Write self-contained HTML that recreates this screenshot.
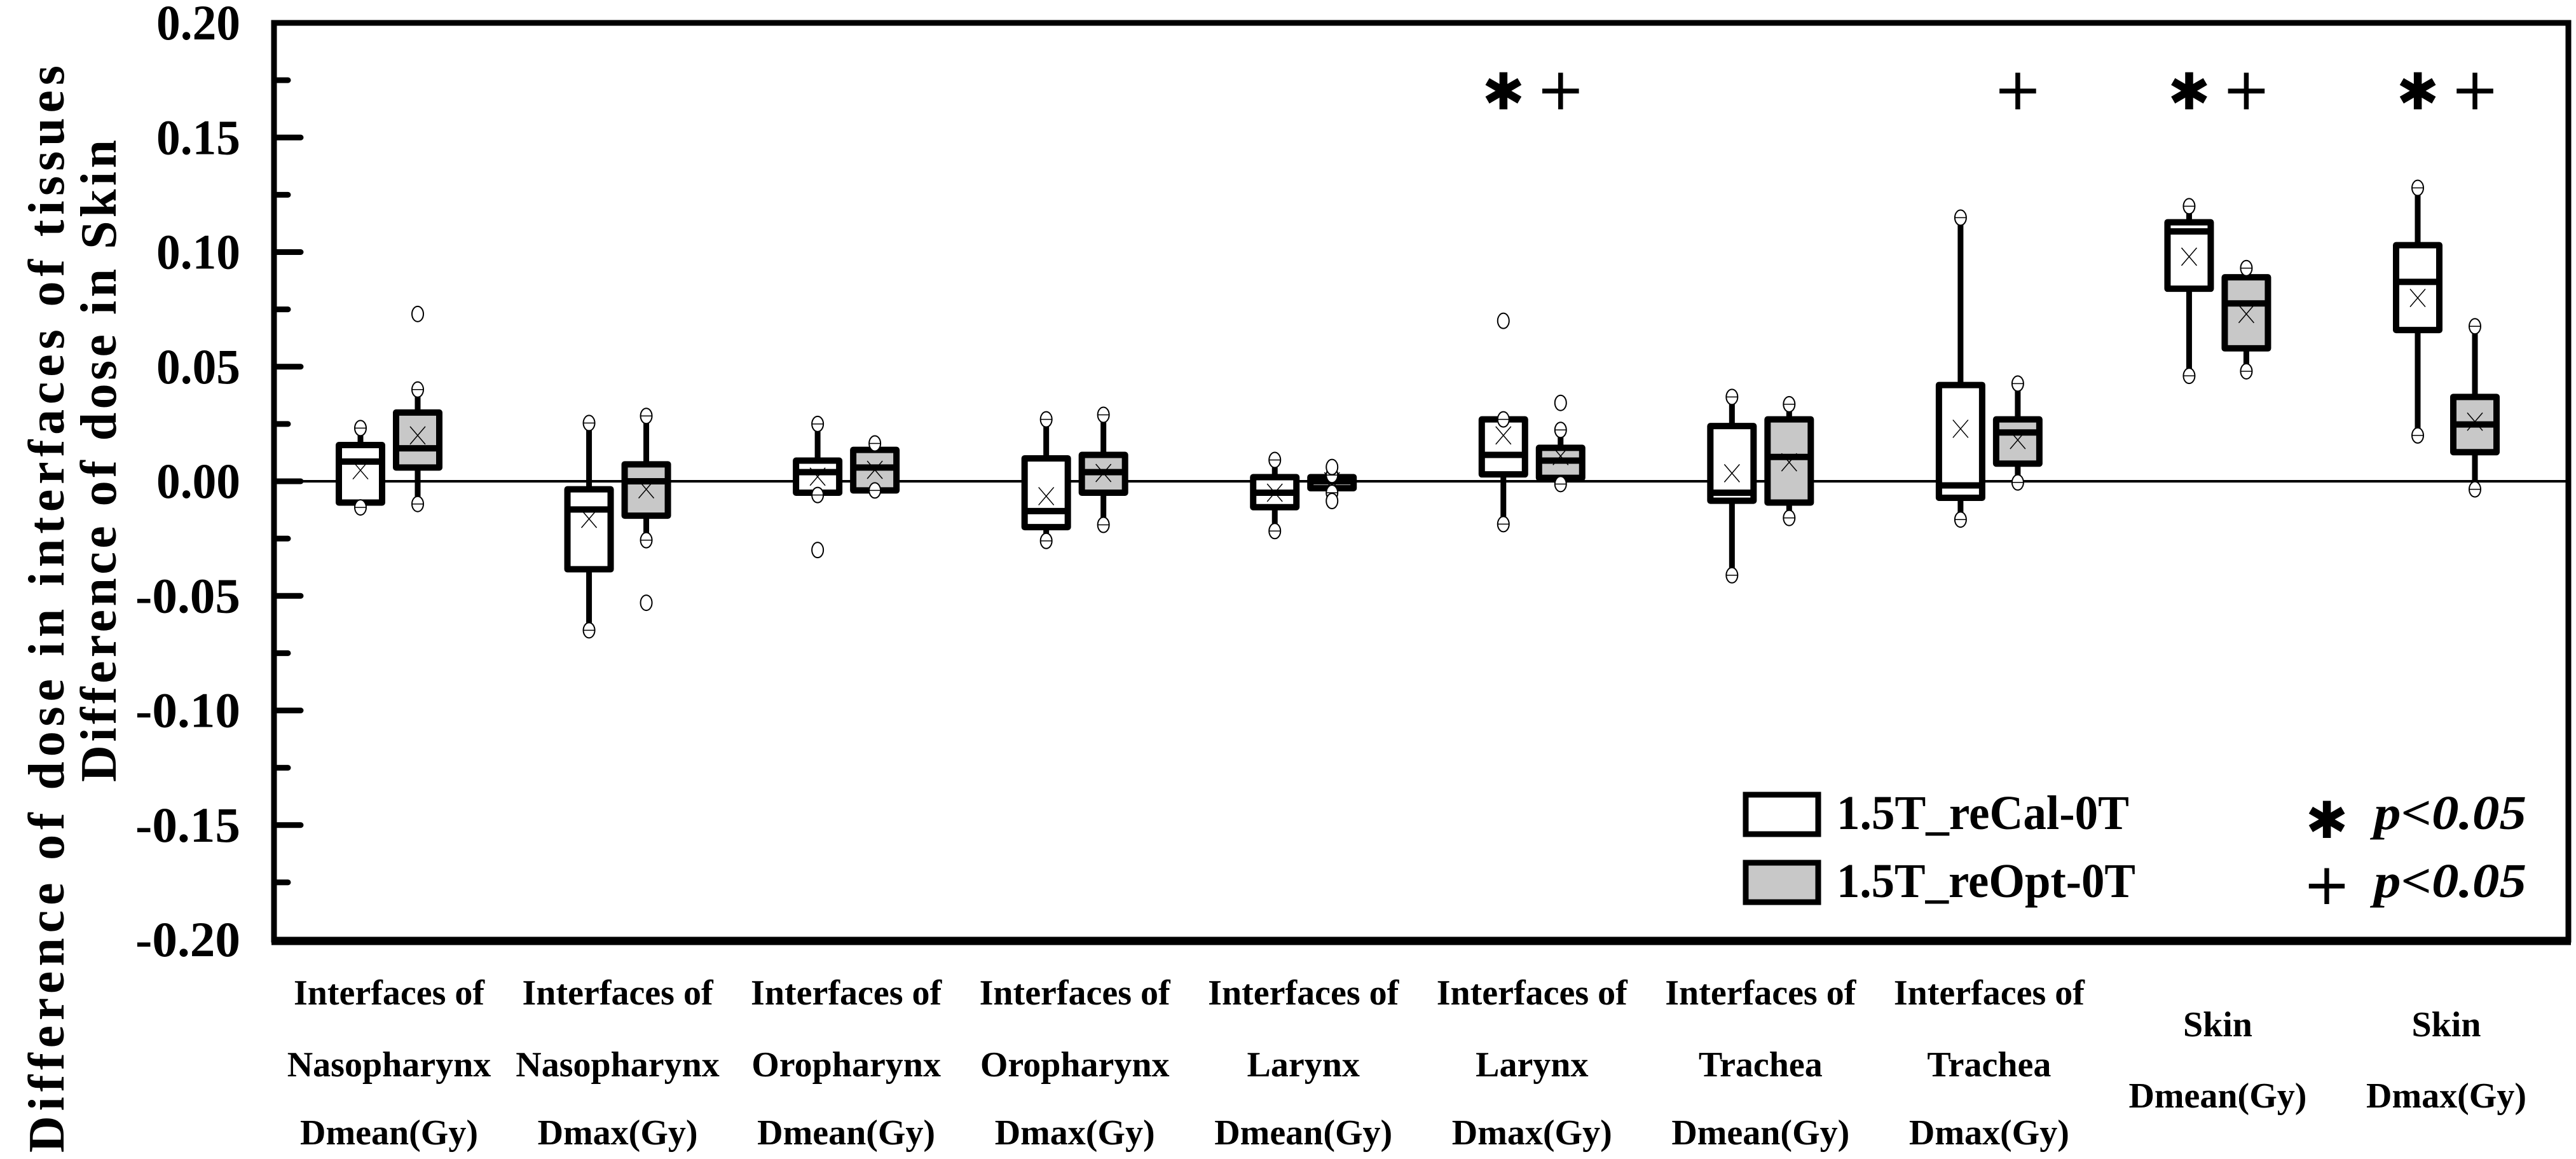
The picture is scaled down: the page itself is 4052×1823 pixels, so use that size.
<!DOCTYPE html>
<html><head><meta charset="utf-8"><style>
html,body{margin:0;padding:0;background:#fff;}
svg{display:block;}
.serif{font-family:"Liberation Serif","DejaVu Serif","Times New Roman",serif;font-weight:bold;}
.sym{font-family:"DejaVu Sans",sans-serif;font-weight:normal;}
</style></head><body>
<svg id="chart" width="4052" height="1823" viewBox="0 0 4052 1823" xmlns="http://www.w3.org/2000/svg">
<rect x="0" y="0" width="4052" height="1823" fill="#fff"/>
<g id="marks"></g>
<g id="axes"></g>
<g class="serif" font-size="80" fill="#000">
<text class="serif" transform="translate(100,958) rotate(-90)" text-anchor="middle" textLength="1710" lengthAdjust="spacing">Difference of dose in interfaces of tissues</text>
<text class="serif" transform="translate(182,725) rotate(-90)" text-anchor="middle" textLength="1010" lengthAdjust="spacing">Difference of dose in Skin</text>
</g>
<g fill="#000">
<rect x="2746" y="1250" width="114" height="62" fill="#fff" stroke="#000" stroke-width="9"/>
<text class="serif" x="2889" y="1304" font-size="76" textLength="460" lengthAdjust="spacingAndGlyphs">1.5T_reCal-0T</text>
<rect x="2746" y="1357" width="114" height="62" fill="#c8c8c8" stroke="#000" stroke-width="9"/>
<text class="serif" x="2889" y="1411" font-size="76" textLength="470" lengthAdjust="spacingAndGlyphs">1.5T_reOpt-0T</text>
<text class="sym" x="3660" y="1318" font-size="80" text-anchor="middle">✱</text>
<text class="serif" x="3734" y="1304" font-size="76" font-style="italic" textLength="240" lengthAdjust="spacingAndGlyphs">p&lt;0.05</text>
<text class="sym" x="3660" y="1422" font-size="90" text-anchor="middle">+</text>
<text class="serif" x="3734" y="1411" font-size="76" font-style="italic" textLength="240" lengthAdjust="spacingAndGlyphs">p&lt;0.05</text>
</g>
</svg>
<script>
const categories = ["Interfaces of|Nasopharynx|Dmean(Gy)","Interfaces of|Nasopharynx|Dmax(Gy)","Interfaces of|Oropharynx|Dmean(Gy)","Interfaces of|Oropharynx|Dmax(Gy)","Interfaces of|Larynx|Dmean(Gy)","Interfaces of|Larynx|Dmax(Gy)","Interfaces of|Trachea|Dmean(Gy)","Interfaces of|Trachea|Dmax(Gy)","Skin|Dmean(Gy)","Skin|Dmax(Gy)"];
const reCalMin  = [-0.0114,-0.065,-0.006,-0.026,-0.0217,-0.0187,-0.041,-0.0167,0.046,0.020];
const reCalQ1   = [-0.0093,-0.0384,-0.005,-0.020,-0.0113,0.003,-0.0085,-0.0072,0.084,0.066];
const reCalMed  = [0.0086,-0.0123,0.004,-0.013,-0.005,0.0115,-0.005,-0.0018,0.109,0.087];
const reCalQ3   = [0.0158,-0.0035,0.009,0.010,0.0018,0.027,0.0241,0.042,0.113,0.103];
const reCalMax  = [0.0232,0.0254,0.025,0.027,0.0093,0.027,0.0368,0.115,0.120,0.128];
const reCalMean = [0.0048,-0.0164,0.002,-0.0065,-0.005,0.020,0.0035,0.0229,0.098,0.080];
const reCalOut  = [[],[],[-0.030],[],[],[0.070],[],[],[],[]];
const reOptMin  = [-0.0099,-0.0257,-0.004,-0.019,-0.005,-0.0012,-0.016,-0.0005,0.048,-0.0035];
const reOptQ1   = [0.006,-0.015,-0.004,-0.005,-0.003,0.0015,-0.0093,0.0077,0.058,0.0127];
const reOptMed  = [0.0144,0,0.006,0.004,0,0.009,0.0106,0.0213,0.0776,0.0248];
const reOptQ3   = [0.030,0.0074,0.0137,0.0115,0.0018,0.0146,0.027,0.027,0.089,0.0368];
const reOptMax  = [0.040,0.0285,0.0165,0.029,0.0027,0.0224,0.0336,0.0426,0.093,0.0676];
const reOptMean = [0.020,-0.0035,0.005,0.0036,0,0.011,0.0083,0.018,0.073,0.026];
const reOptOut  = [[0.073],[-0.053],[],[],[0.0062,-0.0086],[0.0342],[],[],[],[]];
const sigReCal = [0,0,0,0,0,1,0,0,1,1];
const sigReOpt = [0,0,0,0,0,1,0,1,1,1];
const yTicks = [0.20,0.15,0.10,0.05,0.00,-0.05,-0.10,-0.15,-0.20];
const yTickLabels = ["0.20","0.15","0.10","0.05","0.00","-0.05","-0.10","-0.15","-0.20"];

const NS="http://www.w3.org/2000/svg";
const PL=431, PR=4040, PT=36, PB=1478, YMAX=0.2, YMIN=-0.2;
function y(v){return PT+(YMAX-v)/(YMAX-YMIN)*(PB-PT);}
function xc(i){return 612+i*(3848-612)/(categories.length-1);}
function mk(tag,attrs,parent){const e=document.createElementNS(NS,tag);for(const k in attrs)e.setAttribute(k,attrs[k]);parent.appendChild(e);return e;}
const marks=document.getElementById('marks'), axes=document.getElementById('axes');

const zl=mk('line',{x1:PL,x2:PR,y1:y(0),y2:y(0),stroke:'#000','stroke-width':4},marks);



const BW=68, OFF=45;
function drawBox(i,cx,mn,q1,md,q3,mx,mean,outs,fill,series){
  const g=mk('g',{},marks);
  
  
  mk('line',{x1:cx,x2:cx,y1:y(mx),y2:y(q3),stroke:'#000','stroke-width':9},g);
  mk('line',{x1:cx,x2:cx,y1:y(q1),y2:y(mn),stroke:'#000','stroke-width':9},g);
  mk('rect',{x:cx-BW/2,y:y(q3),width:BW,height:Math.max(2,y(q1)-y(q3)),fill:fill,stroke:'#000','stroke-width':10,'stroke-linejoin':'round'},g);
  mk('line',{x1:cx-BW/2,x2:cx+BW/2,y1:y(md),y2:y(md),stroke:'#000','stroke-width':10},g);
  const my=y(mean);
  mk('path',{d:`M${cx-12} ${my-14}L${cx+12} ${my+14}M${cx+12} ${my-14}L${cx-12} ${my+14}`,stroke:'#000','stroke-width':1.5,fill:'none'},g);
  [mn,mx].forEach(v=>{
    const c=mk('ellipse',{cx:cx,cy:y(v),rx:9,ry:12,fill:'#fff',stroke:'#000','stroke-width':2},g);
    
    
    mk('line',{x1:cx-9,x2:cx+9,y1:y(v),y2:y(v),stroke:'#000','stroke-width':1.5},g);
  });
  outs.forEach(v=>{
    const o=mk('ellipse',{cx:cx,cy:y(v),rx:9,ry:12,fill:'#fff',stroke:'#000','stroke-width':2},g);
    
    
  });
}
categories.forEach((c,i)=>{
  drawBox(i,xc(i)-OFF,reCalMin[i],reCalQ1[i],reCalMed[i],reCalQ3[i],reCalMax[i],reCalMean[i],reCalOut[i],'#fff','recal');
  drawBox(i,xc(i)+OFF,reOptMin[i],reOptQ1[i],reOptMed[i],reOptQ3[i],reOptMax[i],reOptMean[i],reOptOut[i],'#c8c8c8','reopt');
  if(sigReCal[i]){
    const s=mk('text',{x:xc(i)-OFF,y:172,'text-anchor':'middle','class':'sym','font-size':80},marks);
    s.textContent='✱';
    
    
  }
  if(sigReOpt[i]){
    const s=mk('text',{x:xc(i)+OFF,y:172,'text-anchor':'middle','class':'sym','font-size':92},marks);
    s.textContent='+';
    
    
  }
  const lines=c.split('|');
  const ys = lines.length===3 ? [1580,1693,1800] : [1630,1742];
  lines.forEach((t,k)=>{
    const tx=mk('text',{x:xc(i),y:ys[k],'text-anchor':'middle','class':'serif','font-size':56},axes);
    tx.textContent=t;
    
    
  });
});

const fr=mk('rect',{x:PL,y:PT,width:PR-PL,height:PB-PT,fill:'none',stroke:'#000','stroke-width':9},axes);


mk('line',{x1:PL-4,x2:PR+4,y1:PB+2,y2:PB+2,stroke:'#000','stroke-width':13},axes);
yTicks.forEach((v,k)=>{
  const t=mk('line',{x1:PL,x2:PL+42,y1:y(v),y2:y(v),stroke:'#000','stroke-width':9,'stroke-linecap':'round'},axes);
  
  
  const l=mk('text',{x:378,y:y(v)+26,'text-anchor':'end','class':'serif','font-size':78,textLength:yTickLabels[k].length*33,lengthAdjust:'spacingAndGlyphs'},axes);
  l.textContent=yTickLabels[k];
  
  
  if(k<yTicks.length-1){
    const m=mk('line',{x1:PL,x2:PL+22,y1:y(v-0.025),y2:y(v-0.025),stroke:'#000','stroke-width':9,'stroke-linecap':'round'},axes);
    
    
  }
});
</script>
</body></html>
